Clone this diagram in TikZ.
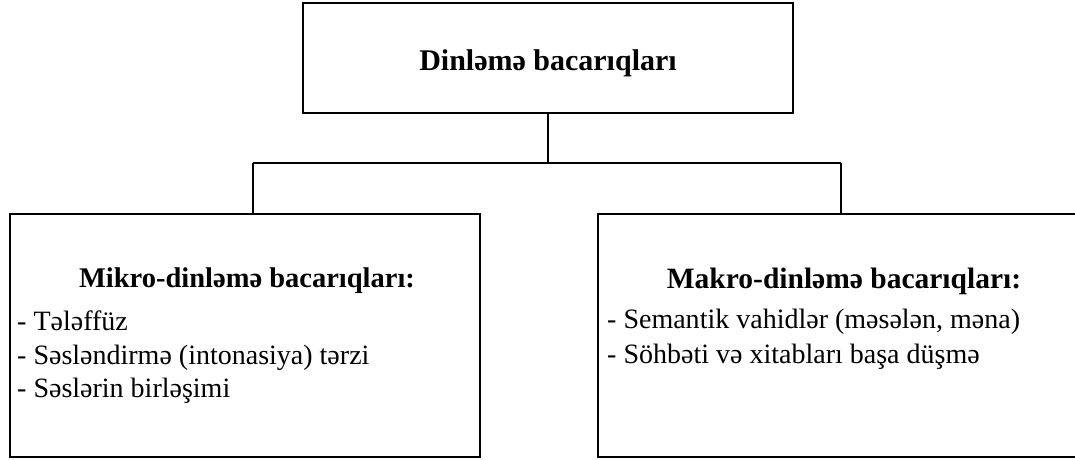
\documentclass[tikz,border=0pt]{standalone}
\usepackage{fontspec}
\setmainfont{Liberation Serif}
\begin{document}
\begin{tikzpicture}[x=1pt,y=-1pt,
  box/.style={draw,line width=1.6pt,inner sep=0pt},
  conn/.style={line width=1.6pt},
  ttl/.style={font=\fontsize{28.5}{34}\selectfont\bfseries,inner sep=0pt,anchor=base},
  item/.style={font=\fontsize{28}{34}\selectfont,inner sep=0pt,anchor=base west}]
\useasboundingbox (0,0) rectangle (1075,459);
\node[box,minimum width=490pt,minimum height=110pt] (top) at (548,58) {};
\node[ttl,font=\fontsize{30}{36}\selectfont\bfseries] (toptext) at (548,70) {Dinləmə bacarıqları};
\node[box,minimum width=470pt,minimum height=243pt] (left) at (245,335.5) {};
\node[box,minimum width=492pt,minimum height=243pt] (right) at (844,335.5) {};
\coordinate (hub) at (548,163);
\coordinate (hl) at (253,163);
\coordinate (hr) at (841,163);
\draw[conn] (top.south) -- (hub);
\draw[conn] (hl) -- (hr);
\draw[conn] (hl) -- (hl |- left.north);
\draw[conn] (hr) -- (hr |- right.north);
\node[ttl] (ltitle) at (247,287) {Mikro-dinləmə bacarıqları:};
\node[item] (l1) at (17,330) {- Tələffüz};
\node[item] (l2) at (17,364) {- Səsləndirmə (intonasiya) tərzi};
\node[item] (l3) at (17,397) {- Səslərin birləşimi};
\node[ttl,font=\fontsize{29.5}{35}\selectfont\bfseries] (rtitle) at (844,288) {Makro-dinləmə bacarıqları:};
\node[item] (r1) at (607,328) {- Semantik vahidlər (məsələn, məna)};
\node[item] (r2) at (607,363) {- Söhbəti və xitabları başa düşmə};
\end{tikzpicture}
\end{document}
